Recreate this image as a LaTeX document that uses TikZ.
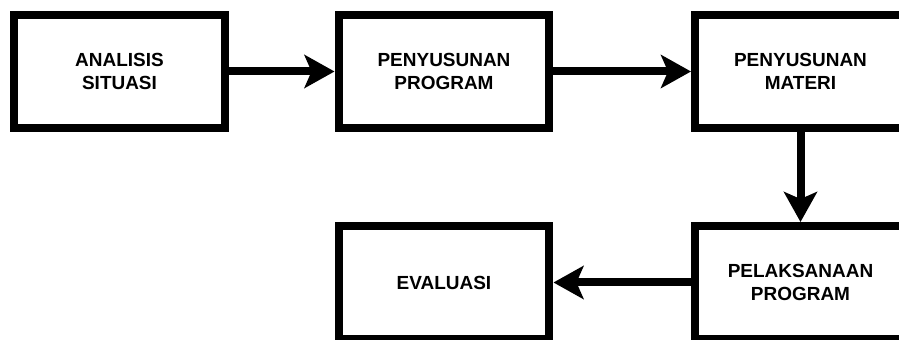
\documentclass[tikz,border=0pt]{standalone}
\usepackage{fontspec}
\setmainfont{Liberation Sans}
\usetikzlibrary{arrows.meta}

\begin{document}
\begin{tikzpicture}[x=0.02cm,y=-0.02cm,
		box/.style={draw, line width=0.16cm, minimum width=4.22cm, minimum height=2.26cm, align=center, font=\fontsize{10.8}{13.1}\selectfont\bfseries},
		flow/.style={line width=0.16cm, -{Stealth[length=0.6cm, width=0.66cm, inset=0.14cm]}}]
		\useasboundingbox (0,0) rectangle (899,340);
		\node[box] (analisis) at (119.5,71.5) {ANALISIS\\SITUASI};
		\node[box] (program) at (444,71.5) {PENYUSUNAN\\PROGRAM};
		\node[box] (materi) at (800.5,71.5) {PENYUSUNAN\\MATERI};
		\node[box] (pelaksanaan) at (800.5,282.5) {PELAKSANAAN\\PROGRAM};
		\node[box] (evaluasi) at (444,282.5) {EVALUASI};
		\draw[flow] (analisis) -- (program);
		\draw[flow] (program) -- (materi);
		\draw[flow] (materi) -- (pelaksanaan);
		\draw[flow] (pelaksanaan) -- (evaluasi);
	\end{tikzpicture}
\end{document}
